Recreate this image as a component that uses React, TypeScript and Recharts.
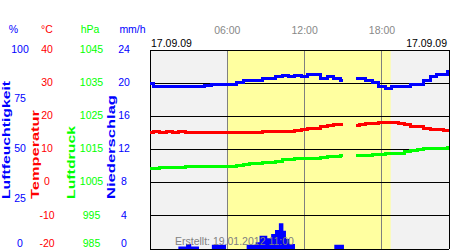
import { ComposedChart, Line, Area, XAxis, YAxis, CartesianGrid, ReferenceArea, ReferenceLine } from 'recharts';

const FONT = '"Liberation Sans", Arial, sans-serif';

// hours of the day (17.09.09)
const TIMES = [0, 0.5, 1, 1.5, 2, 2.5, 3, 3.5, 4, 4.5, 5, 5.5, 6, 6.5, 7, 7.5, 8, 8.5, 9, 9.5, 10, 10.5, 11, 11.5,
    12, 12.5, 13, 13.5, 14, 14.5, 15, 15.5, 16, 16.5, 17, 17.5, 18, 18.5, 19, 19.5, 20, 20.5, 21, 21.5, 22, 22.5, 23, 23.2];
const HUMIDITY = [83.0, 81.8, 81.8, 81.8, 81.8, 81.8, 81.8, 81.8, 81.8, 82.4, 82.9, 82.9, 82.9, 82.9, 83.8, 84.8, 84.8, 84.8, 85.8, 85.8, 86.8, 87.4, 86.8, 87.4,
    86.8, 87.8, 87.8, 85.8, 86.9, 85.8, 84.8, null, 85.8, 85.8, 84.8, 83.8, 81.8, 80.8, 81.8, 81.8, 81.8, 82.8, 82.8, 84.8, 86.8, 87.8, 87.8, 89.0];
const TEMPERATURE = [15.2, 15.3, 15.2, 15.3, 15.2, 15.3, 15.2, 15.2, 15.2, 15.2, 15.2, 15.2, 15.2, 15.2, 15.2, 15.2, 15.1, 15.1, 15.3, 15.3, 15.3, 15.4, 15.5, 15.8,
    16.0, 16.2, 16.4, 16.9, 17.3, 17.4, 17.4, null, 17.3, 17.6, 17.9, 17.9, 18.0, 18.2, 18.2, 17.9, 17.6, 17.0, 17.0, 16.4, 16.1, 15.9, 15.8, 15.8];
const PRESSURE = [1009.3, 1009.3, 1009.6, 1009.6, 1009.6, 1009.7, 1009.9, 1009.9, 1009.9, 1009.9, 1009.9, 1009.9, 1010.0, 1010.0, 1010.2, 1010.4, 1010.7, 1010.7, 1011.0, 1011.0, 1011.5, 1011.9, 1011.9, 1012.2,
    1012.2, 1012.2, 1012.4, 1012.5, 1012.9, 1012.9, 1013.2, null, 1013.2, 1013.2, 1013.2, 1013.4, 1013.5, 1013.8, 1013.8, 1013.8, 1014.3, 1014.6, 1015.0, 1015.2, 1015.2, 1015.2, 1015.4, 1015.5];

// precipitation mm/h, value holds until the next time
const RAIN_TIMES = [0, 2.2, 2.8, 3.2, 3.8, 4.8, 5.9, 7.5, 8.2, 8.5, 9.1, 9.4, 9.7, 10.0, 10.35, 10.55, 10.8, 11.25, 14.3, 15.05, 23.2];
const RAIN = [0, 0.3, 0.6, 0.3, 0, 0.5, 0, 0.5, 0.8, 1.6, 1.3, 1.8, 2.3, 3.1, 2.2, 1.2, 0.6, 0, 0.5, 0, 0];

const X_MAX = 23.2;
const HOUR_TICKS = [6, 12, 18];
const DAYLIGHT = [6.02, 18.67];

const HUM_TICKS = [0, 25, 50, 75, 100];
const TEMP_TICKS = [-20, -10, 0, 10, 20, 30, 40];
const PRESS_TICKS = [985, 995, 1005, 1015, 1025, 1035, 1045];
const RAIN_TICKS = [0, 4, 8, 12, 16, 20, 24];

const BLUE = '#0000ff';
const RED = '#ff0000';
const GREEN = '#00ff00';

const rows = TIMES.map((t, i) => ({ t, hum: HUMIDITY[i], temp: TEMPERATURE[i], press: PRESSURE[i] }));
const rainRows = RAIN_TIMES.map((t, i) => ({ t, rain: RAIN[i] }));

function SideTick(props: any) {
    const { x, y, payload, color, dx, bottom } = props;
    const low = payload.value === bottom;
    return (
        <text x={x + dx} y={low ? y - 1.8 : y + 2.7} textAnchor="middle" fill={color} fontSize={10.5} fontFamily={FONT}>
            {payload.value}
        </text>
    );
}

function HourTick(props: any) {
    const { x, y, payload } = props;
    return (
        <text x={x} y={y - 16} textAnchor="middle" fill="#888888" fontSize={10.5} fontFamily={FONT}>
            {`${String(payload.value).padStart(2, '0')}:00`}
        </text>
    );
}

function Title({ x, text, color, len }: { x: number; text: string; color: string; len: number }) {
    return (
        <text x={x} y={199} transform={`rotate(-90 ${x} 199)`} fill={color} fontSize={10.5} fontWeight="bold"
            textLength={len} lengthAdjust="spacingAndGlyphs">
            {text}
        </text>
    );
}

// static texts drawn over the chart
function Decorations() {
    return (
        <svg width={450} height={250} style={{ position: 'absolute', left: 0, top: 0, pointerEvents: 'none' }}>
            <g fontFamily={FONT}>
                <text x={13.5} y={33} textAnchor="middle" fill={BLUE} fontSize={10.5}>%</text>
                <text x={47} y={33} textAnchor="middle" fill={RED} fontSize={10.5}>°C</text>
                <text x={90} y={33} textAnchor="middle" fill={GREEN} fontSize={10.5}>hPa</text>
                <text x={132.5} y={33} textAnchor="middle" fill={BLUE} fontSize={10.5}>mm/h</text>
                <Title x={9.5} text="Luftfeuchtigkeit" color={BLUE} len={118} />
                <Title x={39} text="Temperatur" color={RED} len={89} />
                <Title x={75} text="Luftdruck" color={GREEN} len={73} />
                <Title x={115} text="Niederschlag" color={BLUE} len={104} />
                <text x={151} y={47} fill="#000" fontSize={10.5}>17.09.09</text>
                <text x={447} y={47} textAnchor="end" fill="#000" fontSize={10.5}>17.09.09</text>
                <text x={175} y={245} fill="#808080" fontSize={10.5}>Erstellt: 19.01.2012 11:00</text>
            </g>
        </svg>
    );
}

export default function App() {
    return (
        <div style={{ position: 'absolute', left: 0, top: 0, width: 450, height: 250, background: '#fff' }}>
            <ComposedChart width={450} height={250} data={rows} margin={{ top: 25, right: 1, bottom: 1, left: 0 }}>
                <CartesianGrid fill="#f2f2f2" horizontal={false} vertical={false} yAxisId="c_temp" />
                <XAxis dataKey="t" type="number" domain={[0, X_MAX]} allowDataOverflow orientation="top" height={25}
                    ticks={HOUR_TICKS} axisLine={false} tickLine={false} tickSize={0} tickMargin={0} tick={<HourTick />} />
                {/* left axes are laid out by id order, first one next to the plot */}
                <YAxis yAxisId="a_rain" type="number" domain={[0, 24]} ticks={RAIN_TICKS} allowDataOverflow width={40}
                    axisLine={false} tickLine={false} tickSize={0} tickMargin={0} interval={0}
                    tick={<SideTick color={BLUE} dx={-26} bottom={0} />} />
                <YAxis yAxisId="b_press" type="number" domain={[985, 1045]} ticks={PRESS_TICKS} allowDataOverflow width={40}
                    axisLine={false} tickLine={false} tickSize={0} tickMargin={0} interval={0}
                    tick={<SideTick color={GREEN} dx={-18.5} bottom={985} />} />
                <YAxis yAxisId="c_temp" type="number" domain={[-20, 40]} ticks={TEMP_TICKS} allowDataOverflow width={40}
                    axisLine={false} tickLine={false} tickSize={0} tickMargin={0} interval={0}
                    tick={<SideTick color={RED} dx={-23} bottom={-20} />} />
                <YAxis yAxisId="d_hum" type="number" domain={[0, 100]} ticks={HUM_TICKS} allowDataOverflow width={30}
                    axisLine={false} tickLine={false} tickSize={0} tickMargin={0} interval={0}
                    tick={<SideTick color={BLUE} dx={-10} bottom={0} />} />
                <ReferenceArea x1={DAYLIGHT[0]} x2={DAYLIGHT[1]} yAxisId="c_temp" fill="#ffffa0" fillOpacity={1} stroke="none" />
                {HOUR_TICKS.map((h) => (
                    <ReferenceLine key={`h${h}`} x={h} yAxisId="c_temp" stroke="#808080" strokeWidth={1} shapeRendering="crispEdges" />
                ))}
                {TEMP_TICKS.map((v) => (
                    <ReferenceLine key={`g${v}`} y={v} yAxisId="c_temp" stroke="#000" strokeWidth={1} shapeRendering="crispEdges" ifOverflow="visible" />
                ))}
                <ReferenceLine x={0} yAxisId="c_temp" stroke="#000" strokeWidth={1} shapeRendering="crispEdges" ifOverflow="visible" />
                <ReferenceLine x={X_MAX} yAxisId="c_temp" stroke="#000" strokeWidth={1} shapeRendering="crispEdges" ifOverflow="visible" />
                <Area data={rainRows} yAxisId="a_rain" dataKey="rain" type="stepAfter" fill={BLUE} fillOpacity={1} stroke="none"
                    isAnimationActive={false} dot={false} activeDot={false} />
                <Line yAxisId="b_press" dataKey="press" type="step" stroke={GREEN} strokeWidth={3} dot={false} activeDot={false}
                    isAnimationActive={false} shapeRendering="crispEdges" />
                <Line yAxisId="c_temp" dataKey="temp" type="step" stroke={RED} strokeWidth={3} dot={false} activeDot={false}
                    isAnimationActive={false} shapeRendering="crispEdges" />
                <Line yAxisId="d_hum" dataKey="hum" type="step" stroke={BLUE} strokeWidth={3} dot={false} activeDot={false}
                    isAnimationActive={false} shapeRendering="crispEdges" />
            </ComposedChart>
            <Decorations />
        </div>
    );
}
